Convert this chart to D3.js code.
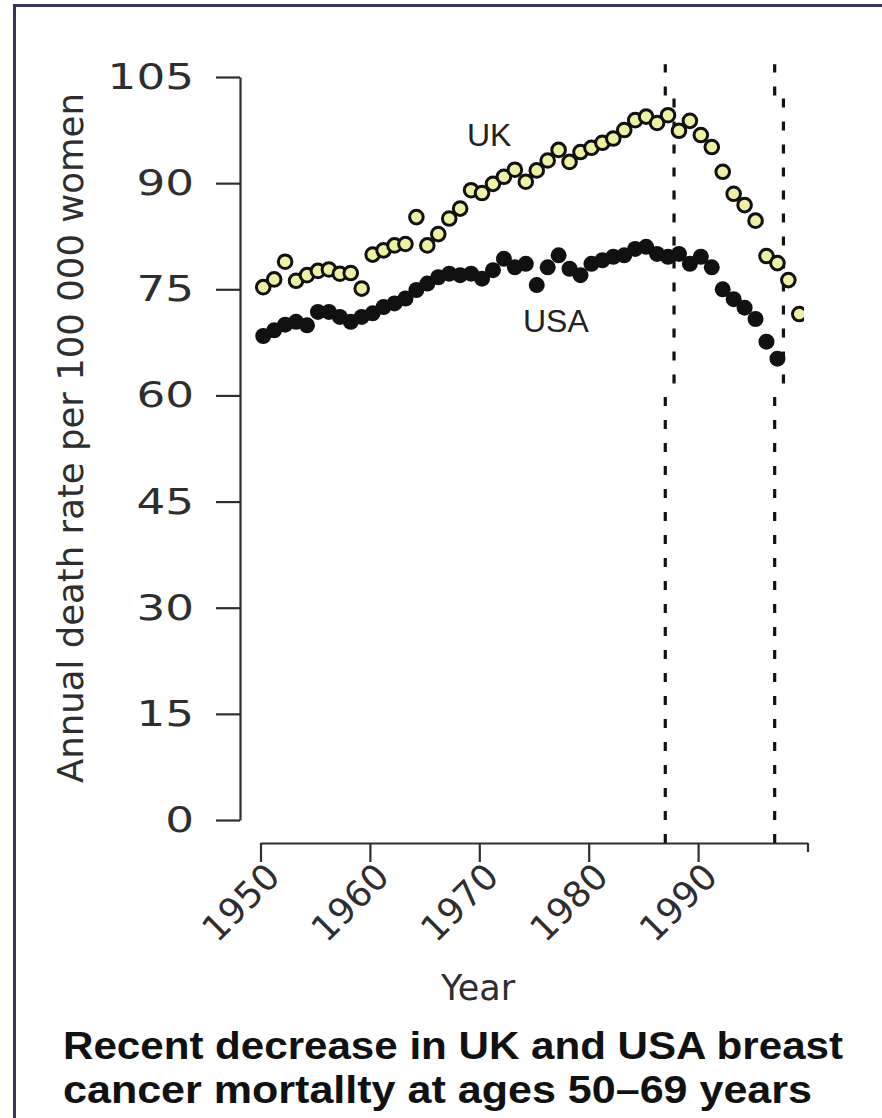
<!DOCTYPE html>
<html><head><meta charset="utf-8">
<script src="https://cdn.jsdelivr.net/npm/d3@7"></script>
<style>
html,body{margin:0;padding:0;background:#fff;}
svg{display:block;}
</style></head><body>
<svg id="c" width="882" height="1118"></svg>
<script>
// ---- data ----
const ukYears = [1950,1951,1952,1953,1954,1955,1956,1957,1958,1959,
                 1960,1961,1962,1963,1964,1965,1966,1967,1968,1969,
                 1970,1971,1972,1973,1974,1975,1976,1977,1978,1979,
                 1980,1981,1982,1983,1984,1985,1986,1987,1988,1989,
                 1990,1991,1992,1993,1994,1995,1996,1997,1998,1999];
const ukRates = [75.3,76.4,78.9,76.2,77.0,77.6,77.8,77.2,77.3,75.1,
                 79.9,80.5,81.2,81.4,85.2,81.2,82.8,85.0,86.4,89.0,
                 88.6,89.9,90.9,91.9,90.2,91.8,93.2,94.7,93.0,94.4,
                 95.0,95.7,96.3,97.5,98.9,99.4,98.5,99.6,97.4,98.8,
                 96.8,95.1,91.6,88.5,86.9,84.7,79.7,78.7,76.3,71.5];
const usaYears = [1950,1951,1952,1953,1954,1955,1956,1957,1958,1959,
                  1960,1961,1962,1963,1964,1965,1966,1967,1968,1969,
                  1970,1971,1972,1973,1974,1975,1976,1977,1978,1979,
                  1980,1981,1982,1983,1984,1985,1986,1987,1988,1989,
                  1990,1991,1992,1993,1994,1995,1996,1997];
const usaRates = [68.4,69.2,70.0,70.4,69.9,71.8,71.8,71.1,70.4,71.1,
                  71.6,72.5,73.0,73.7,74.9,75.8,76.7,77.2,77.0,77.2,
                  76.5,77.7,79.3,78.1,78.6,75.6,78.1,79.8,77.9,77.0,
                  78.6,79.1,79.6,79.8,80.7,81.0,80.0,79.6,80.0,78.6,
                  79.6,78.1,75.0,73.6,72.4,70.8,67.6,65.2];
const yTicks = [0,15,30,45,60,75,90,105];
const xTicks = [1950,1960,1970,1980,1990,2000];
const xTickLabels = ["1950","1960","1970","1980","1990",""];
const markerYears = [1987, 1997];
const markerUpperShift = 0.8;          // upper part of each dashed line is drawn slightly right
const markerBreakValues = [61.7, 102.4, 106.8];
const seriesNames = ["UK","USA"];
const yTitle = "Annual death rate per 100 000 women";
const xTitle = "Year";
const caption = ["Recent decrease in UK and USA breast","cancer mortallty at ages 50–69 years"];

// ---- layout ----
const svg = d3.select("#c");
const x = d3.scaleLinear().domain([1950,2000]).range([260.5,807.5]);
const y = d3.scaleLinear().domain([0,105]).range([820,77]);
const axisY = 843;
const plotOffset = 0.25;
const ink = "#2e2e2e";

// frame
svg.append("rect").attr("x",14.5).attr("y",5.5).attr("width",900).attr("height",1200)
  .attr("fill","none").attr("stroke","#35355e").attr("stroke-width",3);

// dashed marker lines
const mk = svg.append("g").attr("stroke","#111").attr("stroke-width",3.2)
  .attr("stroke-dasharray","9,14").attr("fill","none");
markerYears.forEach(yr => {
  mk.append("line").attr("x1",x(yr)).attr("x2",x(yr))
    .attr("y1",axisY).attr("y2",y(markerBreakValues[0]));
  mk.append("line").attr("x1",x(yr+markerUpperShift)).attr("x2",x(yr+markerUpperShift))
    .attr("y1",y(markerBreakValues[0])).attr("y2",y(markerBreakValues[1]));
  mk.append("line").attr("x1",x(yr)).attr("x2",x(yr))
    .attr("y1",y(markerBreakValues[1])).attr("y2",y(markerBreakValues[2]));
});

// clip for points
svg.append("clipPath").attr("id","clip").append("rect")
  .attr("x",0).attr("y",0).attr("width",804).attr("height",1118);
const pts = svg.append("g").attr("clip-path","url(#clip)");

pts.selectAll("circle.usa").data(usaYears.map((d,i)=>({year:d,v:usaRates[i]})))
  .join("circle").attr("class","usa")
  .attr("cx",d=>x(d.year+plotOffset)).attr("cy",d=>y(d.v)).attr("r",8)
  .attr("fill","#111");

pts.selectAll("circle.uk").data(ukYears.map((d,i)=>({year:d,v:ukRates[i]})))
  .join("circle").attr("class","uk")
  .attr("cx",d=>x(d.year+plotOffset)).attr("cy",d=>y(d.v)).attr("r",6.8)
  .attr("fill","#eef0a6").attr("stroke","#111").attr("stroke-width",3);

// series labels
svg.append("text").attr("x",467).attr("y",146).text(seriesNames[0])
  .attr("font-family","Liberation Sans, Arial, sans-serif").attr("font-size",32).attr("fill","#222");
svg.append("text").attr("x",523).attr("y",332).text(seriesNames[1])
  .attr("font-family","Liberation Sans, Arial, sans-serif").attr("font-size",32).attr("fill","#222");

// y axis
const ya = svg.append("g").attr("transform","translate(240,0)")
  .call(d3.axisLeft(y).tickValues(yTicks).tickSize(24).tickPadding(22).tickSizeOuter(0));
ya.select(".domain").attr("stroke",ink).attr("stroke-width",2.2);
ya.selectAll(".tick line").attr("stroke",ink).attr("stroke-width",2.2);
ya.selectAll(".tick text")
  .attr("font-family","DejaVu Sans, sans-serif").attr("font-size",36).attr("fill",ink)
  .attr("textLength",d=>String(d).length*28.8).attr("lengthAdjust","spacingAndGlyphs");

// x axis
const xa = svg.append("g").attr("transform",`translate(0,${axisY})`)
  .call(d3.axisBottom(x).tickValues(xTicks).tickSize(19).tickSizeOuter(0)
    .tickFormat((d,i)=>xTickLabels[i]));
xa.select(".domain").attr("stroke",ink).attr("stroke-width",2.2);
xa.selectAll(".tick line").attr("stroke",ink).attr("stroke-width",2.2)
  .attr("y2",(d,i)=> xTickLabels[i]==="" ? 9 : 19);
xa.selectAll(".tick text")
  .attr("font-family","DejaVu Sans, sans-serif").attr("font-size",36).attr("fill",ink)
  .attr("x",0).attr("y",0).attr("dy","0.35em").attr("text-anchor","end")
  .attr("transform","translate(12,27) rotate(-45)");

// axis titles
svg.append("text").attr("transform","translate(83,438) rotate(-90)")
  .attr("text-anchor","middle").attr("font-family","DejaVu Sans, sans-serif")
  .attr("font-size",35.5).attr("fill",ink).text(yTitle);
svg.append("text").attr("x",478).attr("y",1000).attr("text-anchor","middle")
  .attr("font-family","DejaVu Sans, sans-serif").attr("font-size",35).attr("fill",ink).text(xTitle);

// caption
const capWidths = [780, 749];
caption.forEach((t,i)=>{
  svg.append("text").attr("x",63).attr("y",1059+i*44)
    .attr("font-family","Liberation Sans, Arial, sans-serif").attr("font-weight","bold")
    .attr("font-size",38).attr("fill","#111")
    .attr("textLength",capWidths[i]).attr("lengthAdjust","spacingAndGlyphs").text(t);
});
</script>
</body></html>
